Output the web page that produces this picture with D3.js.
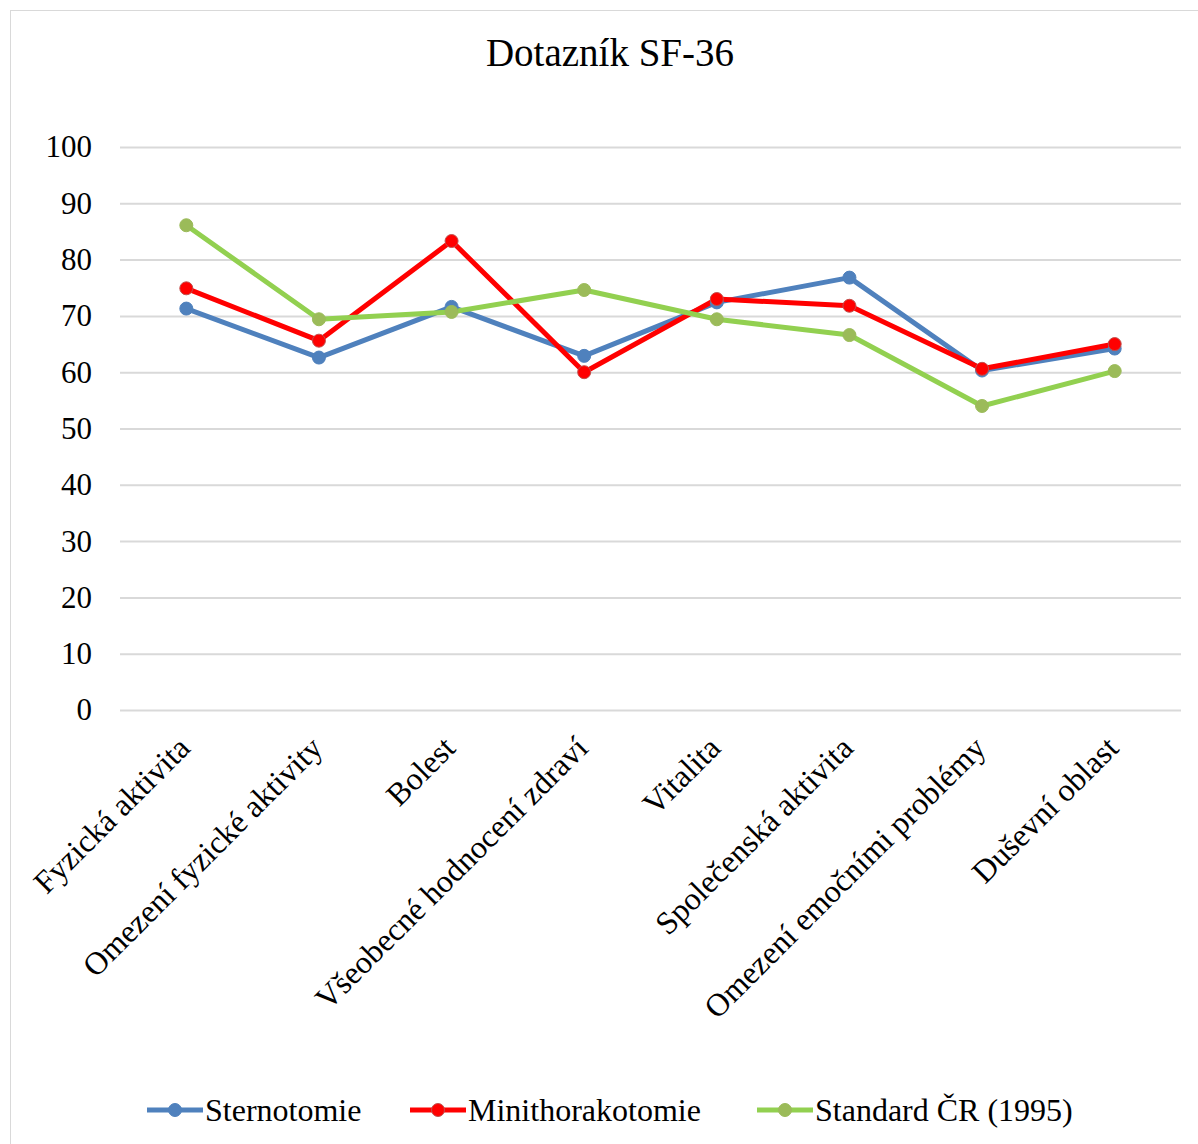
<!DOCTYPE html>
<html>
<head>
<meta charset="utf-8">
<script src="https://cdn.jsdelivr.net/npm/d3@7"></script>
<style>
  html, body { margin: 0; padding: 0; background: #fff; }
  svg { display: block; font-family: "Liberation Serif", "Times New Roman", serif; }
</style>
</head>
<body>
<svg id="chart" width="1198" height="1144"></svg>
<script>
// SF-36 questionnaire domains
const categories = [
  "Fyzická aktivita",
  "Omezení fyzické aktivity",
  "Bolest",
  "Všeobecné hodnocení zdraví",
  "Vitalita",
  "Společenská aktivita",
  "Omezení emočními problémy",
  "Duševní oblast"
];

const sternotomie       = [71.3, 62.6, 71.6, 62.9, 72.4, 76.8, 60.3, 64.2];
const minithorakotomie  = [74.9, 65.6, 83.3, 60.0, 73.0, 71.8, 60.6, 65.0];
const standardCR        = [86.1, 69.4, 70.7, 74.6, 69.4, 66.6, 54.0, 60.2];

const yTicks = [0, 10, 20, 30, 40, 50, 60, 70, 80, 90, 100];
const seriesNames = ["Sternotomie", "Minithorakotomie", "Standard ČR (1995)"];

const series = [
  { name: seriesNames[0], values: sternotomie,      line: "#4f81bd", fill: "#4f81bd", stroke: "#4f81bd" },
  { name: seriesNames[1], values: minithorakotomie, line: "#ff0000", fill: "#ff0000", stroke: "#c0504d" },
  { name: seriesNames[2], values: standardCR,       line: "#92d050", fill: "#9bbb59", stroke: "#9bbb59" }
];

const FONT = "Liberation Serif, Times New Roman, serif";
const svg = d3.select("#chart");

// outer chart frame
svg.append("rect")
  .attr("x", 10.5).attr("y", 10.5)
  .attr("width", 1200).attr("height", 1160)
  .attr("fill", "none").attr("stroke", "#d9d9d9").attr("stroke-width", 1);

const plot = { left: 120, right: 1181, top: 147, bottom: 710 };

const x = d3.scalePoint()
  .domain(categories)
  .range([plot.left, plot.right])
  .padding(0.5);

const y = d3.scaleLinear()
  .domain([0, 100])
  .range([plot.bottom, plot.top]);

// title
svg.append("text")
  .attr("x", 610).attr("y", 66)
  .attr("text-anchor", "middle")
  .attr("font-size", 39)
  .attr("fill", "#000")
  .text("Dotazník SF-36");

// horizontal gridlines + y-axis labels
const yAxis = d3.axisLeft(y)
  .tickValues(yTicks)
  .tickSize(-(plot.right - plot.left))
  .tickPadding(28)
  .tickFormat(d3.format("d"));

const gy = svg.append("g")
  .attr("transform", `translate(${plot.left},0)`)
  .call(yAxis);
gy.select(".domain").remove();
gy.selectAll(".tick line").attr("stroke", "#d9d9d9").attr("stroke-width", 2);
gy.selectAll(".tick text")
  .attr("font-size", 31)
  .attr("font-family", FONT)
  .attr("fill", "#000");

// category labels, rotated
const xAxis = d3.axisBottom(x).tickSize(0).tickPadding(0);
const gx = svg.append("g")
  .attr("transform", `translate(0,${plot.bottom})`)
  .call(xAxis);
gx.select(".domain").remove();
gx.selectAll(".tick text")
  .attr("font-size", 32)
  .attr("font-family", FONT)
  .attr("fill", "#000")
  .attr("text-anchor", "end")
  .attr("dy", null)
  .attr("transform", "translate(5,40) rotate(-45)");

// lines and markers
const line = d3.line()
  .x((d, i) => x(categories[i]))
  .y(d => y(d));

series.forEach(s => {
  svg.append("path")
    .datum(s.values)
    .attr("d", line)
    .attr("fill", "none")
    .attr("stroke", s.line)
    .attr("stroke-width", 5)
    .attr("stroke-linejoin", "round")
    .attr("stroke-linecap", "round");
});

series.forEach(s => {
  svg.append("g").selectAll("circle")
    .data(s.values)
    .join("circle")
    .attr("cx", (d, i) => x(categories[i]))
    .attr("cy", d => y(d))
    .attr("r", 6.5)
    .attr("fill", s.fill)
    .attr("stroke", s.stroke)
    .attr("stroke-width", 1);
});

// legend
const legendItems = [
  { s: series[0], x: 147 },
  { s: series[1], x: 410 },
  { s: series[2], x: 757 }
];
const ly = 1110;
legendItems.forEach(item => {
  const g = svg.append("g").attr("transform", `translate(${item.x},${ly})`);
  g.append("line")
    .attr("x1", 0).attr("x2", 56).attr("y1", 0).attr("y2", 0)
    .attr("stroke", item.s.line).attr("stroke-width", 5);
  g.append("circle")
    .attr("cx", 28).attr("cy", 0).attr("r", 6.5)
    .attr("fill", item.s.fill).attr("stroke", item.s.stroke).attr("stroke-width", 1);
  g.append("text")
    .attr("x", 58).attr("y", 11)
    .attr("font-size", 32)
    .attr("fill", "#000")
    .text(item.s.name);
});
</script>
</body>
</html>
